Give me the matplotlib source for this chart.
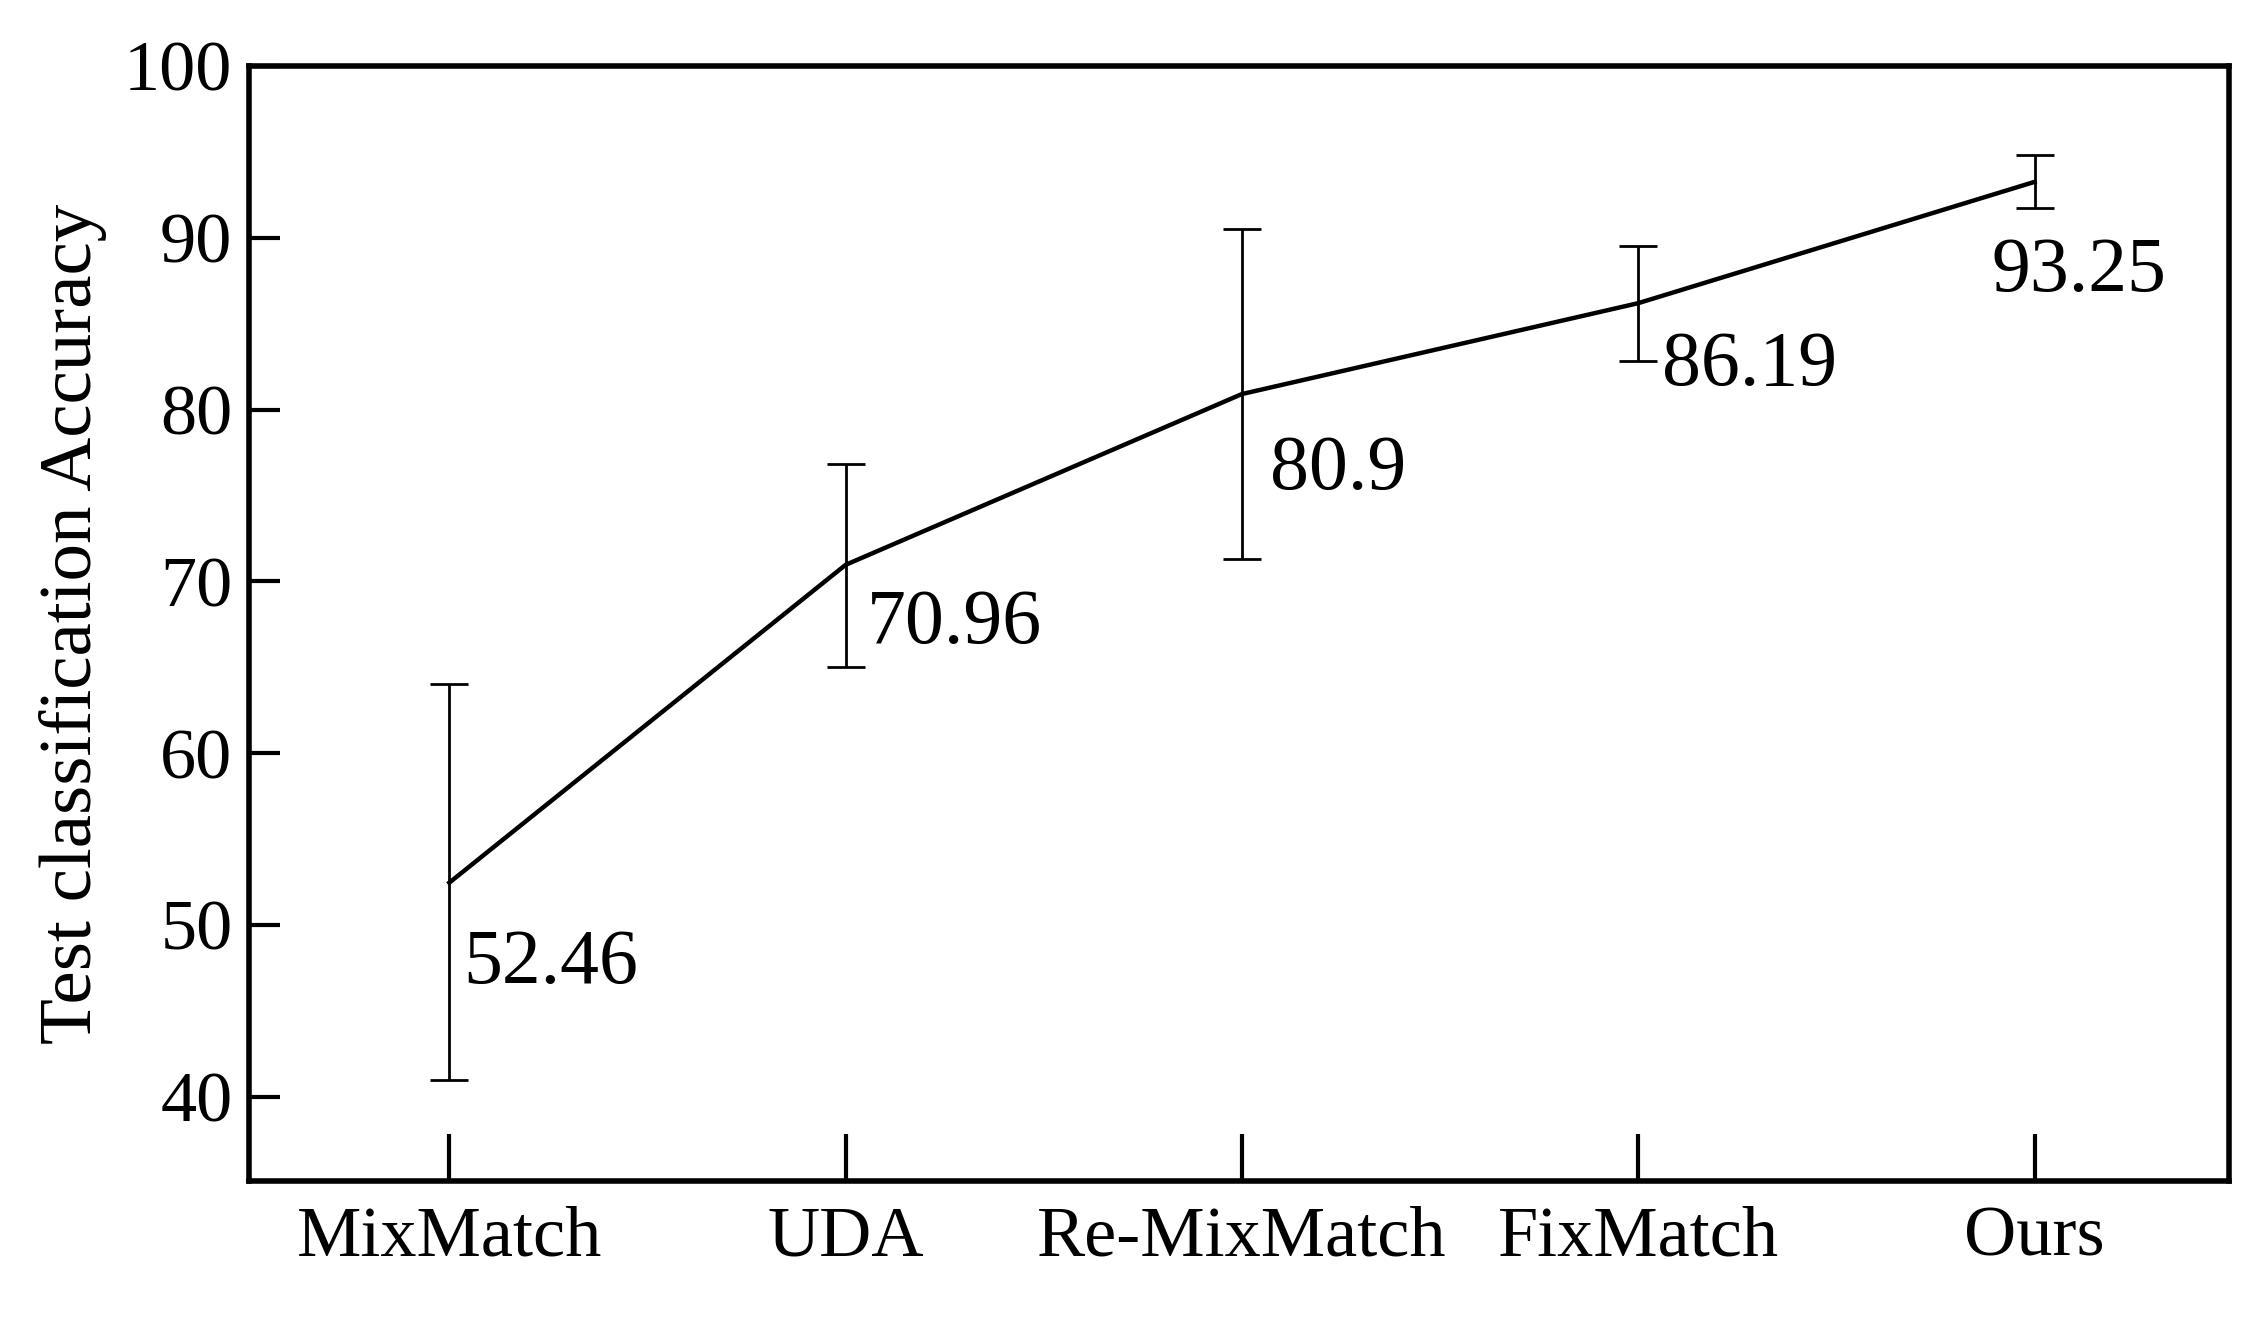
import matplotlib
matplotlib.use("Agg")
import matplotlib.pyplot as plt

methods = ["MixMatch", "UDA", "Re-MixMatch", "FixMatch", "Ours"]
accuracy = [52.46, 70.96, 80.9, 86.19, 93.25]
err_low = [41.0, 65.0, 71.3, 82.8, 91.7]
err_high = [64.0, 76.8, 90.5, 89.5, 94.8]
value_labels = ["52.46", "70.96", "80.9", "86.19", "93.25"]

# label offsets in points (layout only)
label_offsets = [(10, -33), (15, -17), (20, -29), (17, -20), (-31, -39)]

plt.rcParams["font.family"] = ["Liberation Serif", "DejaVu Serif"]

fig = plt.figure(figsize=(22.65, 13.18), dpi=100)
ax = fig.add_axes([0.110, 0.104, 0.874, 0.846])

x = list(range(len(methods)))
yerr = [[a - lo for a, lo in zip(accuracy, err_low)],
        [hi - a for a, hi in zip(accuracy, err_high)]]
ax.errorbar(x, accuracy, yerr=yerr, color="black", linewidth=3.2,
            elinewidth=2.0, capsize=14, capthick=2.0)

for xi, yi, lab, off in zip(x, accuracy, value_labels, label_offsets):
    ax.annotate(lab, (xi, yi), xytext=off, textcoords="offset points",
                ha="left", va="top", fontsize=56)

ax.set_xlim(-0.505, 4.49)
ax.set_ylim(35.1, 100)
ax.set_xticks(x)
ax.set_xticklabels(methods)
ax.set_yticks([40, 50, 60, 70, 80, 90, 100])
ax.set_ylabel("Test classification Accuracy", fontsize=54, labelpad=12)

ax.tick_params(axis="x", direction="in", length=34, width=3, labelsize=52, pad=18)
ax.tick_params(axis="y", direction="in", length=22, width=3, labelsize=52, pad=12)
for s in ax.spines.values():
    s.set_linewidth(4)

fig.savefig("out.png", dpi=100)
